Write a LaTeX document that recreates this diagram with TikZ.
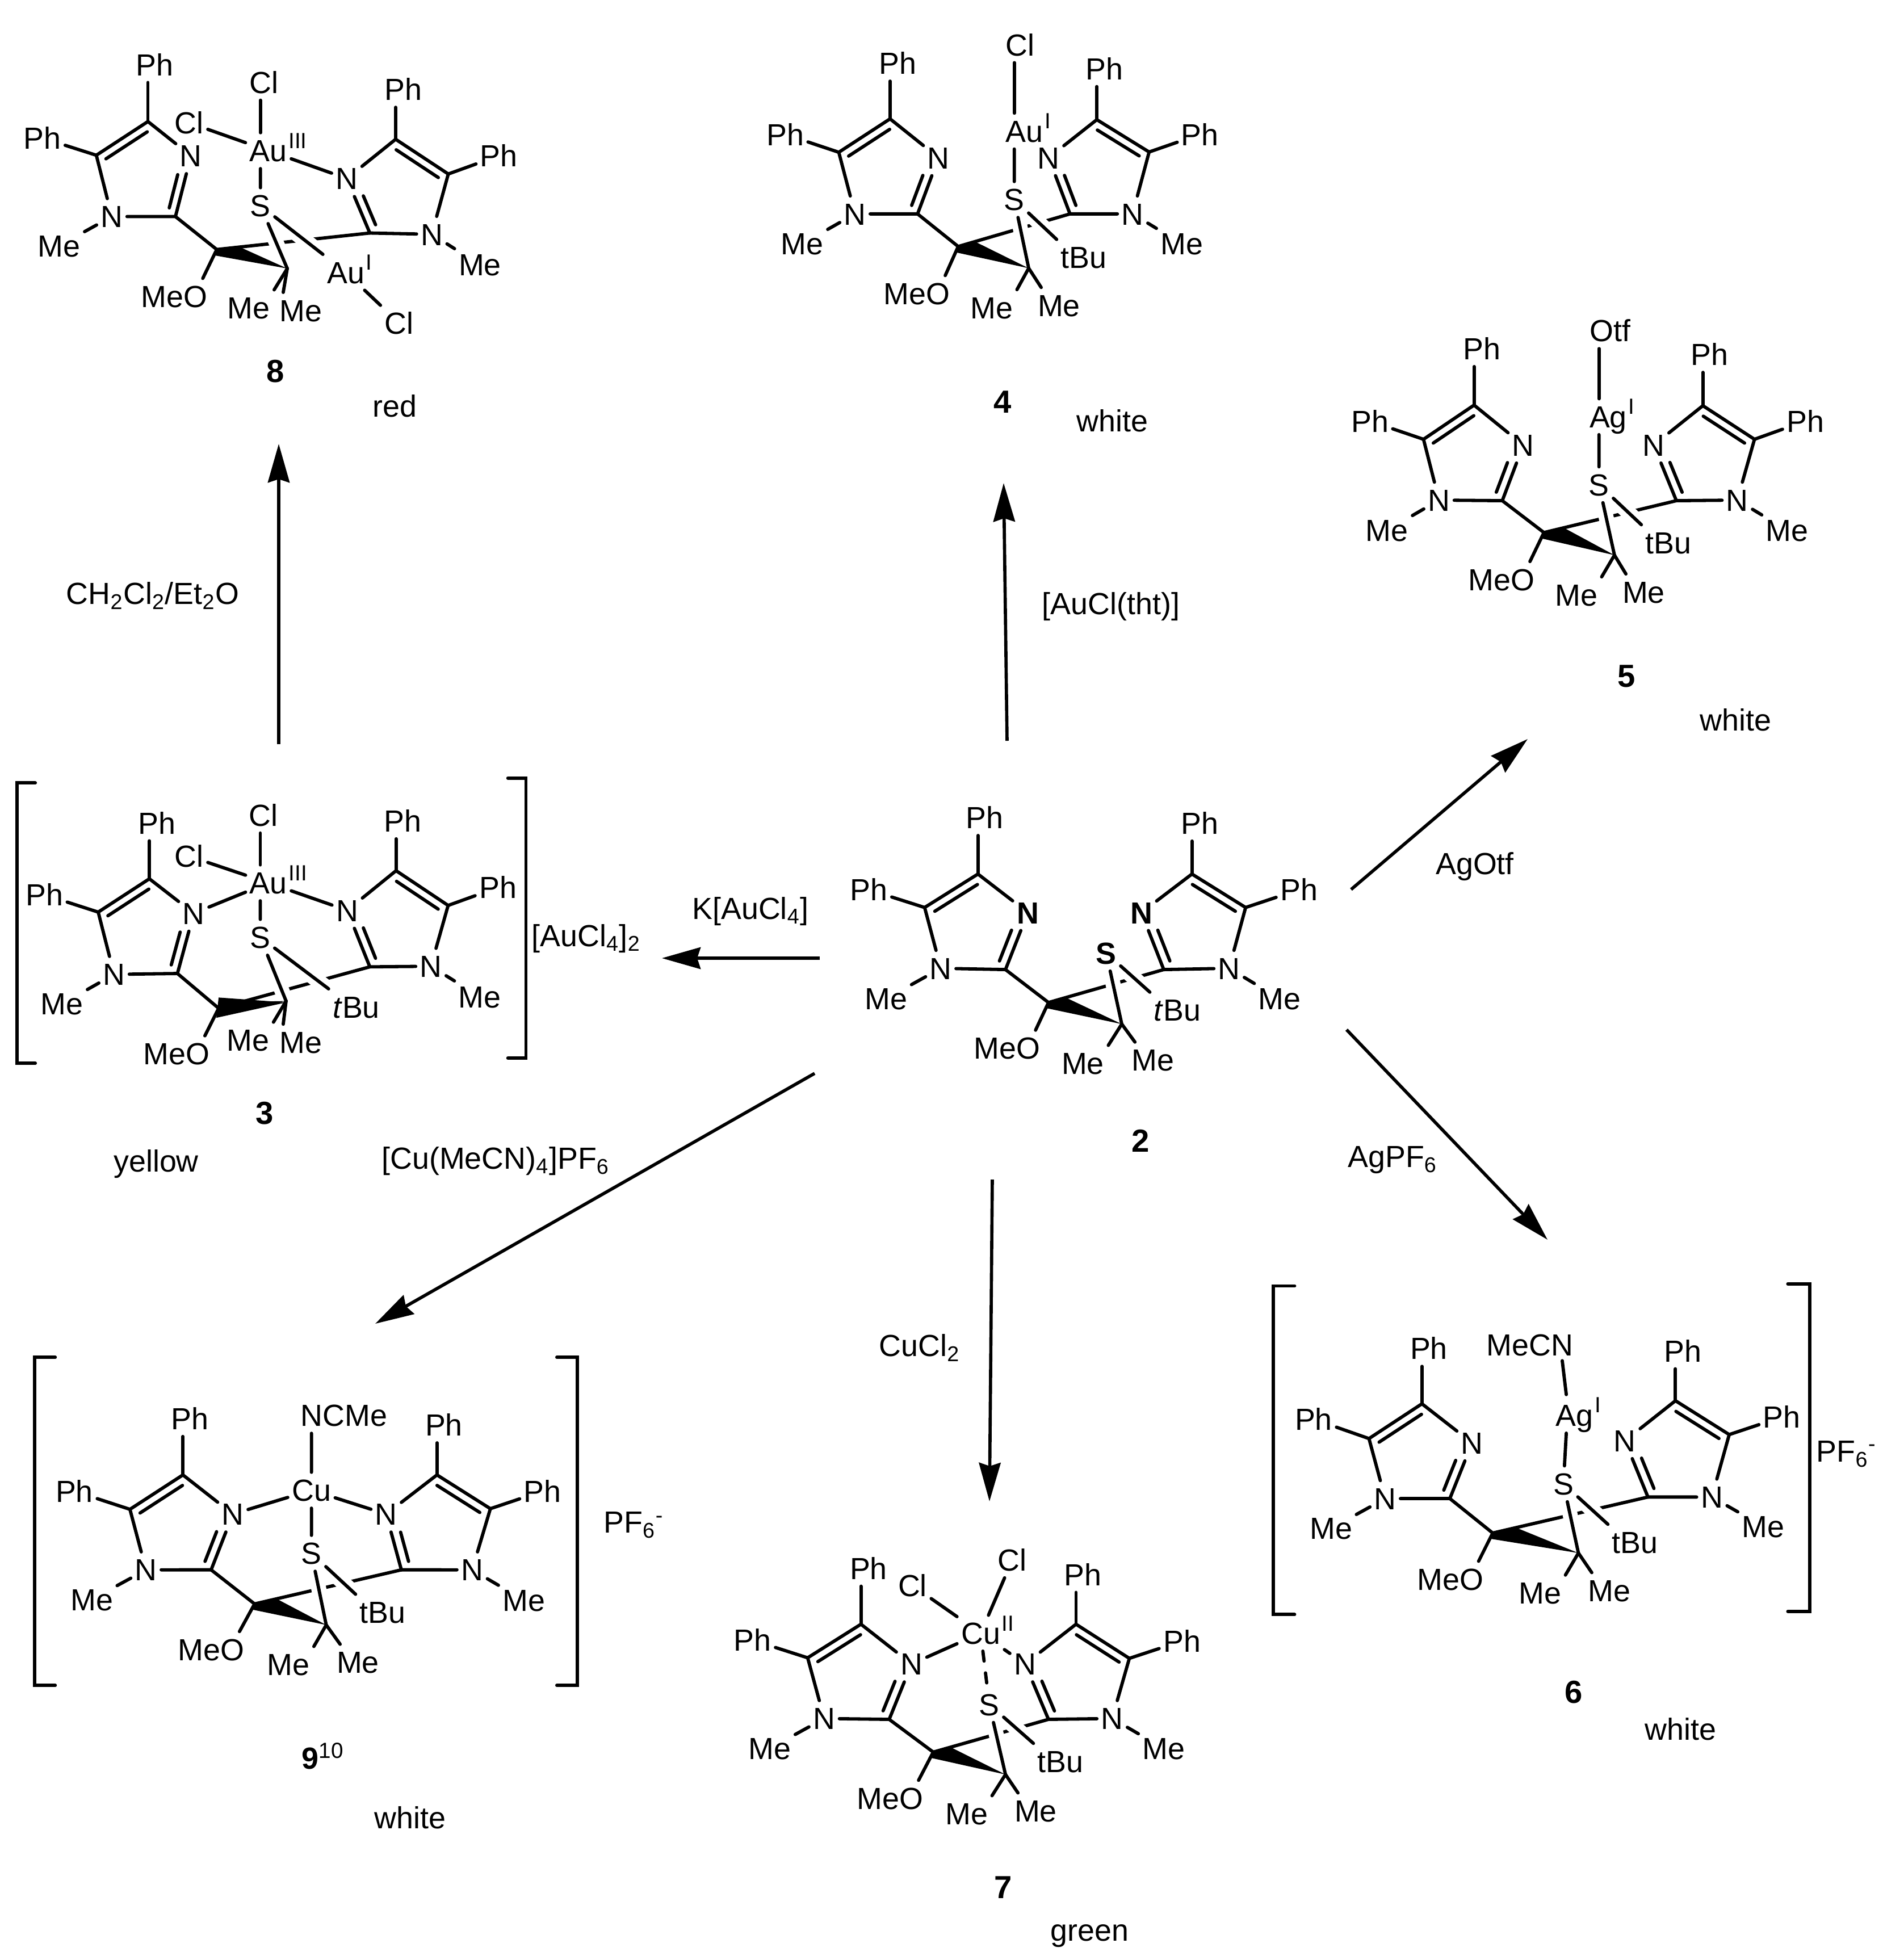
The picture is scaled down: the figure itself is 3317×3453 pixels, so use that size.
\documentclass[tikz,border=0pt]{standalone}
\usepackage{fontspec}
\setmainfont{Liberation Sans}
\usetikzlibrary{calc,arrows.meta}

\newcommand{\molfont}{\fontsize{15.3}{18}\selectfont}

\tikzset{
  atom/.style={font=\molfont,text height=11pt,text depth=0pt,inner xsep=1.9pt,inner ysep=3.3pt},
  boldatom/.style={atom,font=\molfont\bfseries},
  atomn/.style={atom},
  atoms/.style={atom},
  ox/.style={font=\fontsize{11}{12}\selectfont,inner sep=0pt,text height=7.6pt,text depth=0pt,anchor=north west,xshift=-1.5pt},
  bond/.style={line width=1.65pt,line cap=round},
  halo/.style={preaction={draw=white,line width=7.5pt,line cap=butt}},
  rxn/.style={line width=1.6pt,-{Stealth[length=0.68cm,width=0.38cm,inset=0.06cm]}},
  cpd/.style={boldatom,font=\fontsize{16}{18}\selectfont\bfseries}
}

% half of the ligand: name, C2, N1, C5, C4, N3, Ph on C4, Ph on C5, Me on N1
\newcommand{\imring}[9]{
  \coordinate (#1-c2) at (#2);
  \coordinate (#1-c5) at (#4);
  \coordinate (#1-c4) at (#5);
  \node[atom] (#1-n1) at (#3) {N};
  \node[atomn] (#1-n3) at (#6) {N};
  \node[atom] (#1-pa) at (#7) {Ph};
  \node[atom] (#1-pb) at (#8) {Ph};
  \node[atom] (#1-me) at (#9) {Me};
  \coordinate (#1-m) at ($.2*(#1-c2)+.2*(#1-n1)+.2*(#1-c5)+.2*(#1-c4)+.2*(#1-n3)$);
  \draw[bond] (#1-c2) -- (#1-n1);
  \draw[bond] (#1-n1) -- (#1-c5);
  \draw[bond] (#1-c5) -- (#1-c4);
  \draw[bond] (#1-c4) -- (#1-n3);
  \draw[bond] (#1-n3) -- (#1-c2);
  \draw[bond] ($(#1-c4)!.2!(#1-m)$) -- ($(#1-c5)!.2!(#1-m)$);
  \draw[bond,shorten >=8pt] ($(#1-c2)!.2!(#1-m)$) -- ($(#1-n3)!.2!(#1-m)$);
  \draw[bond] (#1-c4) -- (#1-pa.south -| #1-c4);
  \draw[bond] (#1-c5) -- (#1-pb);
  \draw[bond] (#1-n1) -- (#1-me);
}

% three-membered ring: name, CO, CMe2, S, S substituent at, its text, MeO, Me, Me
\newcommand{\thiirane}[9]{
  \coordinate (#1-a) at (#2);
  \coordinate (#1-b) at (#3);
  \node[atoms] (#1-s) at (#4) {S};
  \node[atom] (#1-t) at (#5) {#6};
  \node[atom] (#1-o) at (#7) {MeO};
  \node[atom] (#1-ma) at (#8) {Me};
  \node[atom] (#1-mb) at (#9) {Me};
  \coordinate (#1-ot) at ($(#1-o.north east)!.12!(#1-o.north west)$);
  \draw[bond] (#1l-c2) -- (#1-a);
  \draw[bond] (#1-a) -- (#1r-c2);
  \draw[bond,halo] (#1-s) -- (#1-b);
  \draw[bond,halo] (#1-s) -- (#1-t.north west);
  \fill ($(#1-a)!.15!(#1r-c2)$) -- (#1-b) -- ($(#1-a)!.2!(#1-ot)$) -- (#1-a) -- cycle;
  \draw[bond] (#1-a) -- (#1-ot);
  \draw[bond] (#1-b) -- (#1-ma.north east);
  \draw[bond] (#1-b) -- ($(#1-mb.north west)!.3!(#1-mb.north)$);
}

\begin{document}
\begin{tikzpicture}[x=0.01cm,y=-0.01cm]
\useasboundingbox (0,0) rectangle (3317,3453);

% 2
\begin{scope}[shift={(1450,1380)},xscale=1/1.65,yscale=1/2.24,atomn/.style={boldatom},atoms/.style={boldatom}]
  \imring{m2l}{530,735}{342,730}{295,490}{450,358}{595,510}{470,135}{133,420}{183,850}
  \imring{m2r}{990,735}{1180,730}{1228,490}{1072,358}{925,510}{1095,157}{1383,420}{1327,850}
  \thiirane{m2}{655,865}{868,950}{823,670}{1030,895}{\textit{t}Bu}{535,1045}{755,1105}{958,1092}
  \node[cpd] (m2-no) at (922,1412) {2};
\end{scope}

% 8
\begin{scope}[shift={(0,40)},xscale=1/1.65,yscale=1/2.24]
  \imring{m8l}{510,765}{325,765}{280,523}{430,390}{555,525}{450,165}{123,455}{172,880}
  \imring{m8r}{1075,830}{1255,835}{1303,597}{1150,460}{1008,615}{1172,263}{1450,525}{1395,955}
  \thiirane{m8}{630,895}{835,970}{757,722}{1005,985}{Au}{507,1080}{723,1125}{875,1135}
  \node[ox] (m8-oxb) at (m8-t.north east) {I};
  \node[atom] (m8-au) at (780,505) {Au};
  \node[ox] (m8-oxa) at (m8-au.north east) {III};
  \node[atom] (m8-cla) at (767,235) {Cl};
  \node[atom] (m8-clb) at (550,395) {Cl};
  \node[atom] (m8-clc) at (1160,1185) {Cl};
  \draw[bond] (m8-cla.south -| m8-s) -- (m8-au.north -| m8-s);
  \draw[bond] (m8-au.south -| m8-s) -- (m8-s);
  \draw[bond] (m8-clb) -- (m8-au);
  \draw[bond] (m8-au) -- (m8r-n3);
  \draw[bond] (m8-t) -- (m8-clc);
  \node[cpd] (m8-no) at (800,1375) {8};
  \node[atom] (m8-col) at (1148,1512) {red};
\end{scope}

% 3
\begin{scope}[shift={(0,1340)},xscale=1/1.254,yscale=1/1.96]
  \imring{m3l}{392,735}{252,738}{217,523}{330,408}{428,527}{347,215}{98,463}{137,840}
  \imring{m3r}{817,712}{952,710}{990,500}{875,380}{767,517}{890,208}{1100,438}{1060,815}
  \thiirane{m3}{483,855}{632,830}{575,610}{787,850}{\textit{t}Bu}{390,1012}{548,965}{665,972}
  \fill (483,818) -- (545,825) -- (632,835) -- (478,888) -- cycle;
  \node[atom] (m3-au) at (593,422) {Au};
  \node[ox] (m3-oxa) at (m3-au.north east) {III};
  \node[atom] (m3-cla) at (582,188) {Cl};
  \node[atom] (m3-clb) at (418,330) {Cl};
  \draw[bond] (m3-cla.south -| m3-s) -- (m3-au.north -| m3-s);
  \draw[bond] (m3-au.south -| m3-s) -- (m3-s);
  \draw[bond] (m3-clb) -- (m3-au);
  \draw[bond] (m3-au) -- (m3l-n3);
  \draw[bond] (m3-au) -- (m3r-n3);
  \draw[bond] (78,77) -- (38,77) -- (38,1045) -- (78,1045);
  \draw[bond] (1122,60) -- (1162,60) -- (1162,1027) -- (1122,1027);
  \node[atom] (m3-an) at (1295,603) {[AuCl\textsubscript{4}]\textsubscript{2}};
  \node[cpd] (m3-no) at (585,1218) {3};
  \node[atom] (m3-col) at (345,1383) {yellow};
\end{scope}

% 4
\begin{scope}[shift={(1300,30)},xscale=1/1.65,yscale=1/2.09]
  \imring{m4l}{522,725}{340,725}{293,498}{442,375}{583,518}{465,170}{137,432}{187,835}
  \imring{m4r}{965,725}{1147,725}{1195,497}{1043,378}{903,518}{1065,190}{1343,432}{1290,835}
  \thiirane{m4}{640,845}{845,925}{803,672}{1005,885}{tBu}{520,1018}{737,1070}{933,1062}
  \node[atom] (m4-au) at (833,420) {Au};
  \node[ox] (m4-oxa) at (m4-au.north east) {I};
  \node[atom] (m4-cl) at (820,102) {Cl};
  \draw[bond] (m4-cl.south -| m4-s) -- (m4-au.north -| m4-s);
  \draw[bond] (m4-au.south -| m4-s) -- (m4-s);
  \node[cpd] (m4-no) at (770,1418) {4};
  \node[atom] (m4-col) at (1088,1487) {white};
\end{scope}

% 5
\begin{scope}[shift={(2330,530)},xscale=1/1.65,yscale=1/1.96]
  \imring{m5l}{522,690}{338,688}{293,478}{440,360}{583,498}{463,165}{137,415}{187,792}
  \imring{m5r}{1028,690}{1205,688}{1255,478}{1105,362}{962,498}{1125,185}{1403,415}{1350,792}
  \thiirane{m5}{643,800}{848,878}{803,635}{1005,835}{tBu}{520,962}{737,1015}{933,1005}
  \node[atom] (m5-ag) at (830,400) {Ag};
  \node[ox] (m5-oxa) at (m5-ag.north east) {I};
  \node[atom] (m5-otf) at (836,103) {Otf};
  \draw[bond] (m5-otf.south -| m5-s) -- (m5-ag.north -| m5-s);
  \draw[bond] (m5-ag.south -| m5-s) -- (m5-s);
  \node[cpd] (m5-no) at (883,1295) {5};
  \node[atom] (m5-col) at (1200,1447) {white};
\end{scope}

% 6
\begin{scope}[shift={(2200,2240)},xscale=1/1.404,yscale=1/1.845]
  \imring{m6l}{497,738}{337,738}{297,543}{428,430}{552,557}{445,250}{160,480}{203,835}
  \imring{m6r}{987,733}{1145,733}{1188,530}{1055,420}{930,550}{1073,258}{1318,473}{1272,828}
  \thiirane{m6}{603,850}{815,915}{778,690}{955,880}{tBu}{498,1000}{720,1045}{892,1037}
  \node[atom] (m6-ag) at (805,467) {Ag};
  \node[ox] (m6-oxa) at (m6-ag.north east) {I};
  \node[atom] (m6-cn) at (695,238) {MeCN};
  \coordinate (m6-cnb) at (775,290);
  \coordinate (m6-agt) at (785,400);
  \draw[bond] (m6-cnb) -- (m6-agt);
  \draw[bond] (m6-ag.south -| m6-agt) -- (m6-s);
  \draw[bond] (113,47) -- (60,47) -- (60,1115) -- (113,1115);
  \draw[bond] (1333,40) -- (1387,40) -- (1387,1105) -- (1333,1105);
  \node[atom] (m6-an) at (1478,583) {PF\textsubscript{6}\textsuperscript{-}};
  \node[cpd] (m6-no) at (803,1367) {6};
  \node[atom] (m6-col) at (1068,1488) {white};
\end{scope}

% 7
\begin{scope}[shift={(1250,2680)},xscale=1/1.65,yscale=1/2.028]
  \imring{m7l}{522,708}{333,705}{285,488}{440,368}{587,510}{462,168}{125,425}{175,812}
  \imring{m7r}{985,708}{1170,705}{1220,490}{1065,368}{917,510}{1085,190}{1373,428}{1320,812}
  \thiirane{m7}{650,825}{860,905}{813,655}{1020,858}{tBu}{525,990}{747,1045}{948,1035}
  \node[atom] (m7-cu) at (788,400) {Cu};
  \node[ox] (m7-oxa) at (m7-cu.north east) {II};
  \node[atom] (m7-cla) at (590,230) {Cl};
  \node[atom] (m7-clb) at (880,138) {Cl};
  \draw[bond] (m7-cla) -- (m7-cu);
  \draw[bond] (m7-clb) -- (m7-cu);
  \draw[bond] (m7-cu) -- (m7l-n3);
  \draw[bond] (m7-cu) -- (m7r-n3);
  \draw[bond,dash pattern=on 5pt off 6pt] (m7-cu) -- (m7-s);
  \node[cpd] (m7-no) at (853,1309) {7};
  \node[atom] (m7-col) at (1105,1460) {green};
\end{scope}

% 9
\begin{scope}[shift={(30,2370)},xscale=1/1.307,yscale=1/1.782]
  \imring{m9l}{447,705}{297,705}{260,515}{382,407}{497,530}{398,230}{132,458}{172,798}
  \imring{m9r}{885,705}{1048,705}{1090,513}{967,407}{850,530}{983,250}{1210,458}{1167,800}
  \thiirane{m9}{547,812}{712,878}{678,653}{842,838}{tBu}{447,955}{625,1002}{785,995}
  \node[atom] (m9-cu) at (678,455) {Cu};
  \node[atom] (m9-cn) at (753,220) {NCMe};
  \draw[bond] (m9-cn.south -| m9-cu) -- (m9-cu);
  \draw[bond] (m9-cu) -- (m9-s);
  \draw[bond] (m9-cu) -- (m9l-n3);
  \draw[bond] (m9-cu) -- (m9r-n3);
  \draw[bond] (88,38) -- (40,38) -- (40,1068) -- (88,1068);
  \draw[bond] (1243,38) -- (1290,38) -- (1290,1068) -- (1243,1068);
  \node[atom] (m9-an) at (1420,555) {PF\textsubscript{6}\textsuperscript{-}};
  \node[atom] (m9-no) at (705,1295) {\textbf{9}\textsuperscript{\fontsize{11}{12}\selectfont 10}};
  \node[atom] (m9-col) at (905,1483) {white};
\end{scope}

% arrows
\coordinate (to3a) at (1444,1688);
\coordinate (to3b) at (1166,1688);
\coordinate (to8a) at (491,1311);
\coordinate (to8b) at (491,782);
\coordinate (to4a) at (1774,1305);
\coordinate (to4b) at (1768,851);
\coordinate (to5a) at (2380,1567);
\coordinate (to5b) at (2691,1302);
\coordinate (to6a) at (2372,1814);
\coordinate (to6b) at (2726,2184);
\coordinate (to7a) at (1748,2078);
\coordinate (to7b) at (1743,2645);
\coordinate (to9a) at (1435,1891);
\coordinate (to9b) at (661,2332);
\draw[rxn] (to3a) -- (to3b);
\draw[rxn] (to8a) -- (to8b);
\draw[rxn] (to4a) -- (to4b);
\draw[rxn] (to5a) -- (to5b);
\draw[rxn] (to6a) -- (to6b);
\draw[rxn] (to7a) -- (to7b);
\draw[rxn] (to9a) -- (to9b);

\node[atom] (lb8) at (269,1045) {CH\textsubscript{2}Cl\textsubscript{2}/Et\textsubscript{2}O};
\node[atom] (lb4) at (1957,1063) {[AuCl(tht)]};
\node[atom] (lb3) at (1322,1600) {K[AuCl\textsubscript{4}]};
\node[atom] (lb5) at (2598,1521) {AgOtf};
\node[atom] (lb6) at (2453,2037) {AgPF\textsubscript{6}};
\node[atom] (lb7) at (1620,2370) {CuCl\textsubscript{2}};
\node[atom] (lb9) at (873,2040) {[Cu(MeCN)\textsubscript{4}]PF\textsubscript{6}};
\end{tikzpicture}
\end{document}
